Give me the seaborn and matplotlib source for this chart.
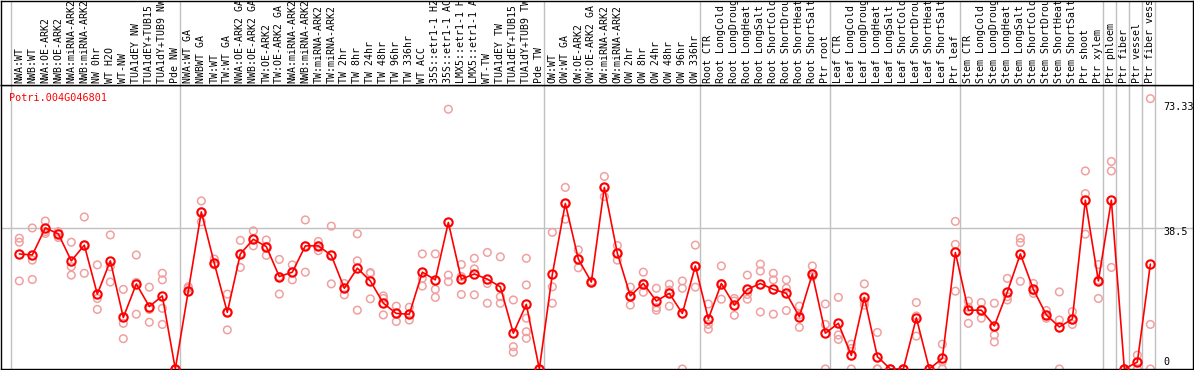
import numpy as np
import pandas as pd
import matplotlib
matplotlib.use("Agg")
import matplotlib.pyplot as plt
import seaborn as sns

gene = "Potri.004G046801"

categories = [
    "NWA:WT", "NWB:WT", "NWA:OE-ARK2", "NWB:OE-ARK2", "NWA:miRNA-ARK2", "NWB:miRNA-ARK2",
    "NW 0hr", "WT H2O", "WT-NW", "TUA1dEY NW", "TUA1dEY+TUB15 NW", "TUA1dY+TUB9 NW", "Pde NW",
    "NWA:WT GA", "NWBWT GA", "TW:WT", "TW:WT GA", "NWA:OE-ARK2 GA", "NWB:OE-ARK2 GA",
    "TW:OE-ARK2", "TW:OE-ARK2 GA", "NWA:miRNA-ARK2", "NWB:miRNA-ARK2", "TW:miRNA-ARK2",
    "TW:miRNA-ARK2", "TW 2hr", "TW 8hr", "TW 24hr", "TW 48hr", "TW 96hr", "TW 336hr", "WT ACC",
    "35S::etr1-1 H2O", "35S::etr1-1 ACC", "LMX5::etr1-1 H2O", "LMX5::etr1-1 ACC", "WT-TW",
    "TUA1dEY TW", "TUA1dEY+TUB15 TW", "TUA1dY+TUB9 TW", "Pde TW",
    "OW:WT", "OW:WT GA", "OW:OE-ARK2", "OW:OE-ARK2 GA", "OW:miRNA-ARK2", "OW:miRNA-ARK2",
    "OW 2hr", "OW 8hr", "OW 24hr", "OW 48hr", "OW 96hr", "OW 336hr",
    "Root CTR", "Root LongCold", "Root LongDrought", "Root LongHeat", "Root LongSalt",
    "Root ShortCold", "Root ShortDrought", "Root ShortHeat", "Root ShortSalt", "Ptr root",
    "Leaf CTR", "Leaf LongCold", "Leaf LongDrought", "Leaf LongHeat", "Leaf LongSalt",
    "Leaf ShortCold", "Leaf ShortDrought", "Leaf ShortHeat", "Leaf ShortSalt", "Ptr leaf",
    "Stem CTR", "Stem LongCold", "Stem LongDrought", "Stem LongHeat", "Stem LongSalt",
    "Stem ShortCold", "Stem ShortDrought", "Stem ShortHeat", "Stem ShortSalt", "Ptr shoot",
    "Ptr xylem", "Ptr phloem", "Ptr fiber", "Ptr vessel", "Ptr fiber vessel",
]

group_sizes = [13, 28, 12, 10, 10, 11, 1, 1, 1, 1]

means = [
    31.5, 31.2, 38.6, 37.0, 29.6, 33.9, 20.5, 29.6, 14.1, 23.3, 17.1, 20.0, 0,
    21.4, 43.0, 28.9, 15.5, 31.5, 35.5, 33.5, 25.3, 26.5, 33.7, 33.7, 31.1, 22.1, 27.6,
    24.1, 18.0, 15.2, 15.0, 26.5, 24.4, 40.1, 24.6, 26.0, 24.6, 22.5, 9.8, 17.7, 0,
    25.9, 45.3, 30.1, 23.8, 49.7, 31.7, 20.0, 23.4, 18.6, 20.7, 15.2, 28.2,
    13.7, 23.4, 17.5, 21.8, 23.4, 21.8, 20.7, 14.3, 26.0, 9.8,
    12.5, 3.7, 19.6, 3.4, 0, 0, 14.0, 0, 2.9, 31.9,
    16.1, 16.1, 11.8, 21.1, 31.5, 21.8, 14.8, 11.5, 13.7, 46.2, 24.1,
    46.2, 0, 1.9, 28.7,
]

replicates = [
    [35.8, 34.7, 24.1], [38.6, 29.8, 24.5], [40.5, 37.6, 37.1], [37.6, 36.0, 37.0],
    [34.7, 28.0, 25.7], [41.6, 33.9, 26.2], [28.5, 19.3, 16.3], [36.7, 28.0, 23.8],
    [21.8, 12.5, 8.3], [31.2, 23.7, 15.0], [22.4, 16.3, 12.8], [26.2, 24.4, 16.6, 12.2],
    [0, 0, 0],
    [22.5, 22.1, 21.2], [46.0, 43.0, 40.3], [30.1, 28.5, 28.9], [20.5, 15.5, 10.7],
    [35.2, 31.5, 27.8], [37.8, 35.5, 33.7], [35.3, 33.5, 31.1], [30.0, 25.3, 20.5],
    [28.5, 26.5, 24.4], [40.8, 33.7, 26.5], [34.9, 33.7, 32.4], [39.1, 31.1, 23.3],
    [23.4, 22.1, 20.3], [37.0, 29.6, 16.1], [26.4, 26.2, 19.2], [20.0, 19.3, 14.8],
    [17.2, 15.2, 13.0], [16.9, 15.0, 13.4], [31.5, 24.8, 22.7], [31.5, 21.8, 19.6],
    [71.1, 25.7, 23.9], [28.6, 25.3, 20.4], [30.3, 27.4, 20.3], [31.9, 23.4, 18.0],
    [30.7, 19.8, 18.0], [18.9, 6.1, 4.6], [30.3, 23.0, 13.9, 10.2, 8.4], [0, 0, 0],
    [37.4, 22.5, 18.0], [49.7, 45.3, 41.0], [32.6, 30.1, 27.7], [24.0, 23.8, 23.6],
    [52.7, 49.7, 47.2], [33.8, 31.7, 29.8], [22.4, 20.0, 17.5], [26.5, 23.4, 21.0],
    [22.1, 16.8, 16.1], [23.2, 21.6, 17.2], [24.1, 22.1, 0], [33.9, 28.2, 22.4],
    [17.8, 12.2, 10.9], [28.2, 23.4, 19.1], [19.3, 18.6, 14.7], [25.7, 20.4, 19.1],
    [28.7, 26.8, 15.6], [26.2, 24.4, 15.0], [24.4, 22.1, 16.0], [17.2, 14.8, 11.4],
    [28.2, 26.0, 25.3], [17.8, 12.2, 0],
    [19.6, 9.3, 8.1], [6.8, 5.6, 0], [23.3, 18.4, 17.5], [10.0, 0, 0], [0, 0, 0],
    [0, 0, 0], [18.2, 14.5, 9.0], [0, 0, 0], [6.8, 2.0, 0], [40.4, 34.1, 21.3],
    [18.6, 16.9, 12.5], [18.2, 16.1, 13.9], [18.0, 9.3, 7.4], [24.8, 19.8, 18.9],
    [35.8, 34.6, 24.0], [23.4, 21.4, 20.7], [16.0, 14.7, 13.9], [21.1, 13.4, 0],
    [15.7, 13.4, 12.2], [54.2, 48.0, 36.9], [28.6, 24.3, 19.3],
    [56.8, 54.2, 27.8], [0, 0, 0], [3.8, 2.0, 0], [74.0, 12.2, 0],
]

y_ticks = [0, 38.5, 73.33]
y_tick_labels = ["0", "38.5", "73.33"]

# ---------------------------------------------------------------
sns.set_style("white")
plt.rcParams["font.family"] = ["DejaVu Sans Mono", "DejaVu Sans"]

W, H = 1194, 370
fig = plt.figure(figsize=(W / 100, H / 100), dpi=100)

ax = fig.add_axes([1 / W, 1 / H, 1192 / W, 284 / H])
ax_top = fig.add_axes([1 / W, 285 / H, 1192 / W, 84 / H])

xmin, xmax = -1.408, 90.28
ymax = 73.33 * 1.06

idx = np.arange(len(categories))
df_mean = pd.DataFrame({"x": idx, "y": means})
rx, ry = [], []
for i, reps in enumerate(replicates):
    for v in reps:
        rx.append(i)
        ry.append(v)
df_rep = pd.DataFrame({"x": rx, "y": ry})

# group separators
bounds = np.concatenate([[-1], np.cumsum(group_sizes) - 1]) + 0.37
for a in (ax, ax_top):
    for b in bounds:
        a.axvline(b, color="#c0c0c0", lw=1, zorder=0)
ax.axhline(38.5, color="#c0c0c0", lw=1, zorder=0)

sns.scatterplot(data=df_rep, x="x", y="y", ax=ax, marker="o", s=30,
                facecolors="none", edgecolors="#f0a0a0", linewidths=1.1,
                zorder=2, legend=False)
sns.lineplot(data=df_mean, x="x", y="y", ax=ax, color="#ff0000", lw=1.2,
             marker="o", markersize=6, markerfacecolor="none",
             markeredgecolor="#ff0000", markeredgewidth=1.5, zorder=3,
             legend=False)

ax.set_xlim(xmin, xmax)
ax.set_ylim(0, ymax)
ax.set_xticks([])
ax.set_yticks([])
ax.set_xlabel("")
ax.set_ylabel("")
for s in ax.spines.values():
    s.set_color("black")
    s.set_linewidth(1)

# value labels on the right inside the plot
label_offsets = [2.0, -0.9, -1.5]
for v, t, off in zip(y_ticks, y_tick_labels, label_offsets):
    ax.text(1163 / W * (xmax - xmin) / (1192 / W) + xmin - 1 / 13, v + off, t,
            fontsize=7.3, color="black", ha="left", va="center")

ax.text(0.0067, 0.955, gene, transform=ax.transAxes, color="#ff0000",
        fontsize=7.3, ha="left", va="center")

# category labels
ax_top.set_xlim(xmin, xmax)
ax_top.set_ylim(0, 1)
ax_top.set_xticks([])
ax_top.set_yticks([])
for s in ax_top.spines.values():
    s.set_color("black")
    s.set_linewidth(1)
for i, c in enumerate(categories):
    ax_top.text(i, 0.025, c, rotation=90, ha="center", va="bottom",
                fontsize=7.1, color="black", clip_on=True)

fig.savefig("out.png", dpi=100)
